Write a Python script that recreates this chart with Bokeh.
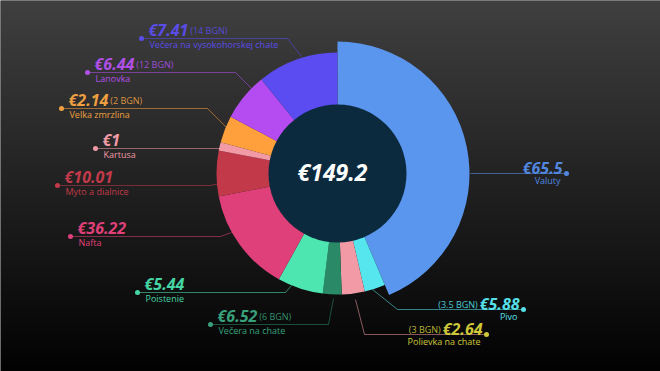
import numpy as np
from bokeh.plotting import figure
from bokeh.models import Range1d
from bokeh.embed import file_html
from bokeh.resources import INLINE
from bokeh.core.properties import value

# ---- data (clockwise from 12 o'clock) ----
names = ["Valuty", "Pivo", "Polievka na chate", "Večera na chate", "Poistenie",
         "Nafta", "Myto a dialnice", "Kartusa", "Velka zmrzlina", "Lanovka",
         "Večera na vysokohorskej chate"]
amounts = [65.5, 5.88, 2.64, 6.52, 5.44, 36.22, 10.01, 1, 2.14, 6.44, 7.41]
amount_labels = ["€65.5", "€5.88", "€2.64", "€6.52", "€5.44", "€36.22", "€10.01",
                 "€1", "€2.14", "€6.44", "€7.41"]
bgn_notes = ["", "(3.5 BGN)", "(3 BGN)", "(6 BGN)", "", "", "", "", "(2 BGN)",
             "(12 BGN)", "(14 BGN)"]
# slice sizes as drawn in the picture (degrees of the ring)
slice_degrees = [157, 10, 11, 9, 22, 50, 22, 4, 13, 23, 39]
total_label = "€149.2"

# ---- styles ----
slice_colors = ["#5a96ee", "#55e6ee", "#f29aa6", "#2a8a68", "#4de6b0", "#e0407a",
                "#c23a4a", "#f29aa6", "#ffa03c", "#b44cf2", "#5a4cf0"]
text_colors = ["#5287e0", "#55e0ea", "#cfc83a", "#37a27c", "#45d6a4", "#e0407a",
               "#c23a4a", "#f09aa6", "#f0a040", "#b050e8", "#5a4ce8"]

W, H = 660, 371
def Y(v):
    return H - v

cx, cy = 337, Y(173)
r_in, r_out, r_big = 69, 121, 132

# label layout in reference pixels: dot, elbow, end, side
layout = [
    ((566, 173), (470, 173), (470, 173), "r"),
    ((523, 309), (397, 309), (372, 289), "r"),
    ((486, 334), (364, 334), (355, 299), "r"),
    ((210, 324), (328, 324), (333, 298), "l"),
    ((137, 292), (285, 292), (291, 285), "l"),
    ((70, 236), (220, 236), (231, 232), "l"),
    ((57, 185), (210, 185), (220, 183), "l"),
    ((95, 148), (220, 148), (220, 148), "l"),
    ((61, 108), (207, 108), (226, 127), "l"),
    ((87, 72), (235, 72), (252, 89), "l"),
    ((141, 38), (287, 38), (301, 56), "l"),
]

p = figure(width=W, height=H, output_backend="svg", toolbar_location=None,
           x_range=Range1d(0, W), y_range=Range1d(0, H), min_border=0)
p.axis.visible = False
p.grid.visible = False
p.outline_line_color = None
p.border_fill_color = "#000000"
p.background_fill_color = "#1e1e1e"

# background vertical gradient
rows = H
top = np.array([0x40, 0x40, 0x40], dtype=float)
bot = np.array([0x02, 0x02, 0x02], dtype=float)
img = np.zeros((rows, 1), dtype=np.uint32)
view = img.view(dtype=np.uint8).reshape((rows, 1, 4))
for i in range(rows):
    t = i / (rows - 1)  # 0 bottom -> 1 top
    c = bot + (top - bot) * t
    view[i, 0, 0] = int(c[0]); view[i, 0, 1] = int(c[1]); view[i, 0, 2] = int(c[2]); view[i, 0, 3] = 255
p.image_rgba(image=[img], x=0, y=0, dw=W, dh=H)

deg = np.array(slice_degrees, dtype=float)
frac = deg / deg.sum()
cum = np.concatenate([[0], np.cumsum(frac)])
start = np.pi / 2 - cum[1:] * 2 * np.pi
end = np.pi / 2 - cum[:-1] * 2 * np.pi
outer = [r_big if i == 0 else r_out for i in range(len(deg))]

p.annular_wedge(x=cx, y=cy, inner_radius=r_in - 2, outer_radius=outer,
                start_angle=list(start), end_angle=list(end),
                fill_color=slice_colors, line_color=None)

p.circle(x=[cx], y=[cy], radius=r_in, fill_color="#0b2a3e", line_color=None)
p.text(x=[cx - 5], y=[Y(171)], text=[total_label], text_font=value("Open Sans"),
       text_font_style="bold italic", text_font_size="23px", text_color="#ffffff",
       text_align="center", text_baseline="middle")

def text_w(s, fs):
    w = 0
    for ch in s:
        w += 0.27 * fs if ch == "." else 0.57 * fs
    return w

AFS = 16
SFS = "9px"
for i, ((dx, dy), (ex, ey), (tx, ty), side) in enumerate(layout):
    col = slice_colors[i]
    tc = text_colors[i]
    p.line(x=[dx, ex, tx], y=[Y(dy), Y(ey), Y(ty)], line_color=col,
           line_alpha=0.55, line_width=1)
    p.scatter(x=[dx], y=[Y(dy)], size=5, fill_color=tc, line_color=None)
    if side == "l":
        ax = dx + 7
        p.text(x=[ax], y=[Y(dy - 9)], text=[amount_labels[i]], text_font=value("Open Sans"),
               text_font_style="bold italic", text_font_size=f"{AFS}px", text_color=tc,
               text_align="left", text_baseline="middle")
        p.text(x=[ax + 1], y=[Y(dy + 6)], text=[names[i]], text_font=value("Open Sans"),
               text_font_size=SFS, text_color=tc, text_align="left",
               text_baseline="middle")
        if bgn_notes[i]:
            bx = ax + text_w(amount_labels[i], AFS) + 1
            p.text(x=[bx], y=[Y(dy - 8)], text=[bgn_notes[i]], text_font=value("Open Sans"),
                   text_font_size=SFS, text_color=tc, text_alpha=0.9,
                   text_align="left", text_baseline="middle")
    else:
        ax = dx - 4
        p.text(x=[ax], y=[Y(dy - 6)], text=[amount_labels[i]], text_font=value("Open Sans"),
               text_font_style="bold italic", text_font_size=f"{AFS}px", text_color=tc,
               text_align="right", text_baseline="middle")
        p.text(x=[ax - 2], y=[Y(dy + 7)], text=[names[i]], text_font=value("Open Sans"),
               text_font_size=SFS, text_color=tc, text_align="right",
               text_baseline="middle")
        if bgn_notes[i]:
            bx = ax - text_w(amount_labels[i], AFS) - 1
            p.text(x=[bx], y=[Y(dy - 5)], text=[bgn_notes[i]], text_font=value("Open Sans"),
                   text_font_size=SFS, text_color=tc, text_alpha=0.9,
                   text_align="right", text_baseline="middle")

open("out.html", "w").write(file_html(p, INLINE))
